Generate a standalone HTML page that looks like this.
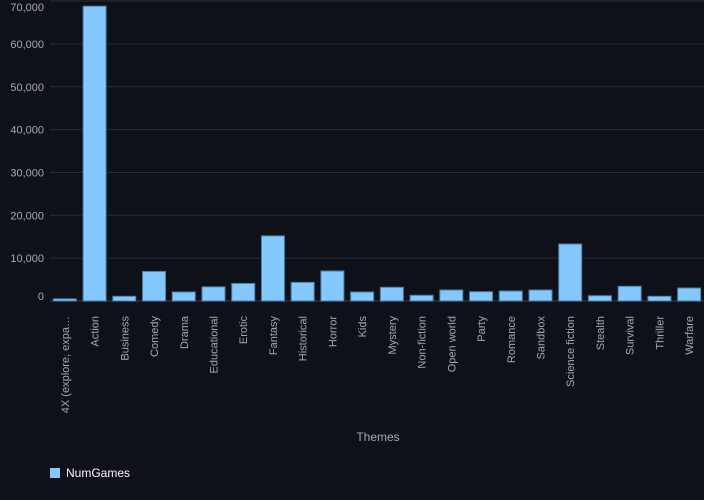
<!DOCTYPE html>
<html><head><meta charset="utf-8"><style>
body{margin:0;background:#0e1117;}
svg{display:block;font-family:"Liberation Sans","DejaVu Sans",sans-serif;}
</style></head><body>
<svg id="c" width="704" height="500"></svg>
<script>
const categories=["4X (explore, expa…","Action","Business","Comedy","Drama","Educational","Erotic","Fantasy","Historical","Horror","Kids","Mystery","Non-fiction","Open world","Party","Romance","Sandbox","Science fiction","Stealth","Survival","Thriller","Warfare"];
const numGames=[500,68800,1100,6900,2100,3300,4100,15200,4350,7000,2100,3200,1330,2570,2170,2330,2570,13300,1240,3430,1100,3030];
const yTicks=[0,10000,20000,30000,40000,50000,60000,70000];
const NS="http://www.w3.org/2000/svg";
const svg=document.getElementById('c');
const x0=50,x1=704,y0=301,pxPer=42.85/10000;
const band=(x1-x0)/categories.length;
const y=v=>y0-v*pxPer;
const xc=i=>x0+band*(i+0.5);
function mk(t,a){const e=document.createElementNS(NS,t);for(const k in a)e.setAttribute(k,a[k]);svg.appendChild(e);return e;}
yTicks.forEach(t=>{
  const g=mk('line',{x1:x0,x2:x1,y1:y(t),y2:y(t),stroke:t===0?'#3a3d45':'#2a2d35','stroke-width':1});
  
  
  const ly=t===0?y(t)-1:Math.max(y(t)+4,11);
  const l=mk('text',{x:44,y:ly,'text-anchor':'end','font-size':11,fill:'#a3a8b4'});
  l.textContent=t.toLocaleString('en-US');
  
  
});
categories.forEach((c,i)=>{
  const w=23;
  const r=mk('rect',{x:xc(i)-w/2,y:y(numGames[i]),width:w,height:y0-y(numGames[i]),fill:'#83c9ff',stroke:'#4a7ea8','stroke-width':1});
  
  
  const t=mk('text',{transform:`translate(${xc(i)+4},316) rotate(-90)`,'text-anchor':'end','font-size':11,fill:'#a3a8b4'});
  t.textContent=c;
  
  
});
const at=mk('text',{x:378,y:441,'text-anchor':'middle','font-size':12,fill:'#a3a8b4'});
at.textContent='Themes';


const ls=mk('rect',{x:50,y:468,width:10,height:10,fill:'#83c9ff'});


const lt=mk('text',{x:66,y:477,'font-size':12,fill:'#fafafa'});
lt.textContent='NumGames';


</script>
</body></html>
